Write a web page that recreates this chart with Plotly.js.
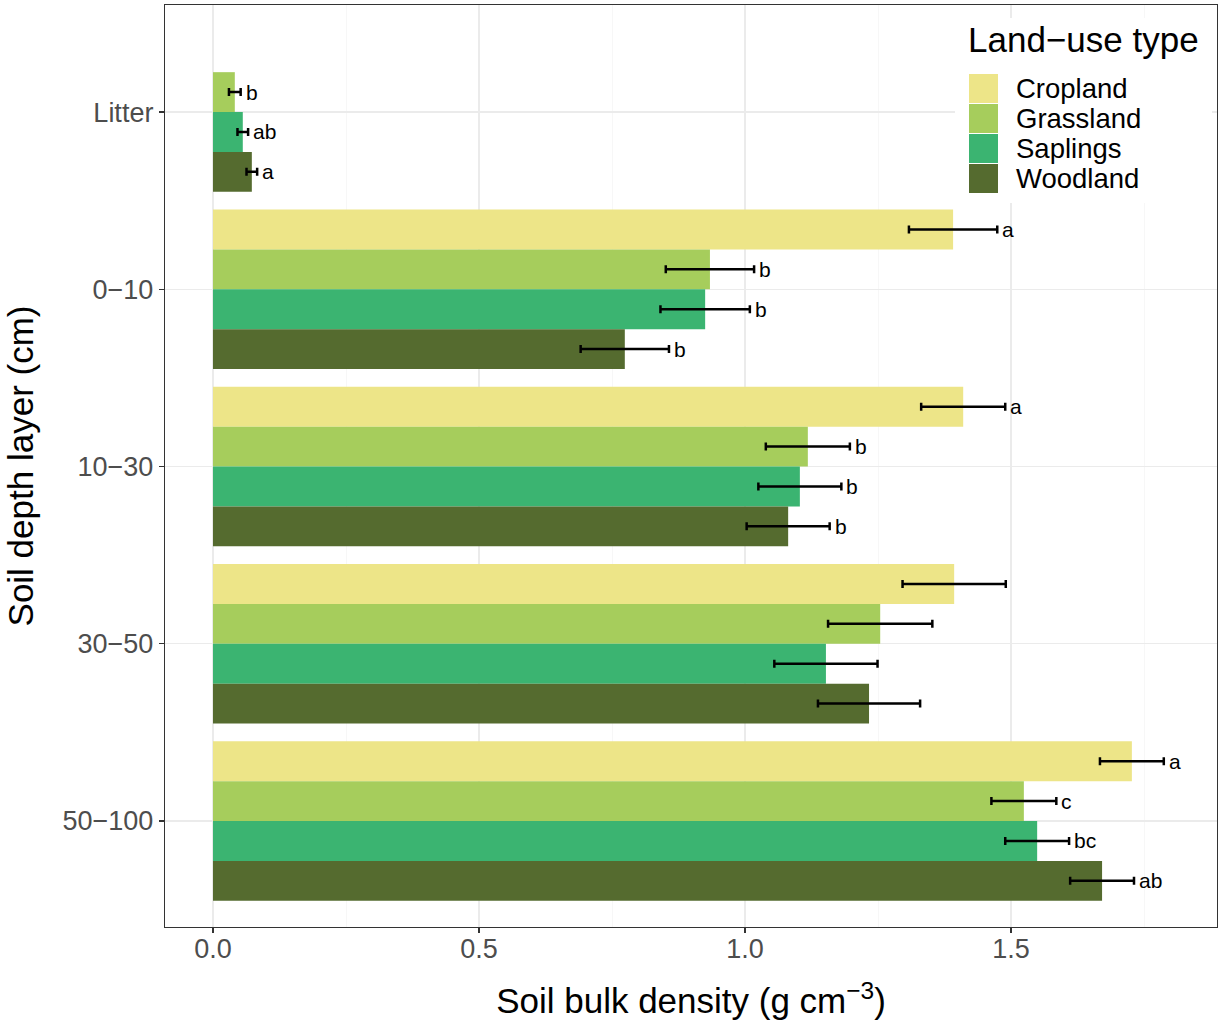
<!DOCTYPE html>
<html>
<head>
<meta charset="utf-8">
<script src="https://cdn.plot.ly/plotly-3.0.1.min.js"></script>
<style>
  html, body { margin: 0; padding: 0; background: #ffffff; }
  #chart { width: 1225px; height: 1023px; }
</style>
</head>
<body>
<div id="chart"></div>
<script>
// Soil depth layers (top to bottom) and land-use types
const layers = ['Litter', '0\u221210', '10\u221230', '30\u221250', '50\u2212100'];
const landUse = ['Cropland', 'Grassland', 'Saplings', 'Woodland'];
const colors = ['#EDE588', '#A6CD5C', '#3BB471', '#556B2F'];

// Mean bulk density (g cm-3) per layer, standard errors and significance letters
const cropland     = [null, 1.391, 1.410, 1.393, 1.727];
const croplandErr  = [null, 0.083, 0.079, 0.097, 0.060];
const croplandSig  = ['', 'a', 'a', '', 'a'];

const grassland    = [0.041, 0.934, 1.118, 1.254, 1.524];
const grasslandErr = [0.011, 0.083, 0.079, 0.098, 0.061];
const grasslandSig = ['b', 'b', 'b', '', 'c'];

const saplings     = [0.056, 0.925, 1.103, 1.152, 1.549];
const saplingsErr  = [0.010, 0.084, 0.078, 0.097, 0.060];
const saplingsSig  = ['ab', 'b', 'b', '', 'bc'];

const woodland     = [0.073, 0.774, 1.081, 1.233, 1.671];
const woodlandErr  = [0.010, 0.083, 0.078, 0.096, 0.060];
const woodlandSig  = ['a', 'b', 'b', '', 'ab'];

const series = [
  { vals: cropland,  err: croplandErr,  sig: croplandSig },
  { vals: grassland, err: grasslandErr, sig: grasslandSig },
  { vals: saplings,  err: saplingsErr,  sig: saplingsSig },
  { vals: woodland,  err: woodlandErr,  sig: woodlandSig }
];

const FONT = 'Liberation Sans, Arial, sans-serif';
const BARGAP = 0.1;

const traces = series.map((s, i) => ({
  type: 'bar',
  orientation: 'h',
  name: landUse[i],
  y: layers,
  x: s.vals,
  marker: { color: colors[i], line: { width: 0 } },
  error_x: { type: 'data', array: s.err, visible: true, color: '#000000', thickness: 2.5, width: 4 },
  showlegend: false,
  hoverinfo: 'x+name'
}));

// Significance letters placed just right of each error bar
const annotations = [];
const groupW = 1 - BARGAP;
const barW = groupW / landUse.length;
series.forEach((s, i) => {
  const off = -groupW / 2 + barW * (i + 0.5);
  s.vals.forEach((v, j) => {
    if (v === null || !s.sig[j]) return;
    annotations.push({
      xref: 'x', yref: 'y',
      x: v + s.err[j], y: j + off,
      text: s.sig[j], showarrow: false,
      xanchor: 'left', yanchor: 'middle', xshift: 3,
      font: { family: FONT, size: 21, color: '#000000' }
    });
  });
});

// Plot-area geometry used for the in-panel legend
const M = { l: 165, r: 8, t: 5, b: 96 };
const PW = 1225 - M.l - M.r, PH = 1023 - M.t - M.b;
const px = v => (v - M.l) / PW;
const py = v => 1 - (v - M.t) / PH;

const shapes = [{
  type: 'rect', xref: 'paper', yref: 'paper', layer: 'above',
  x0: px(955), x1: px(1212), y0: py(203), y1: py(18),
  fillcolor: '#ffffff', line: { width: 0 }
}];
annotations.push({
  xref: 'paper', yref: 'paper', x: px(966), y: py(40),
  xanchor: 'left', yanchor: 'middle', showarrow: false,
  text: 'Land\u2212use type', font: { family: FONT, size: 35, color: '#000000' }
});
landUse.forEach((name, i) => {
  const top = 74 + i * 30;
  shapes.push({
    type: 'rect', xref: 'paper', yref: 'paper', layer: 'above',
    x0: px(969), x1: px(998), y0: py(top + 29), y1: py(top),
    fillcolor: colors[i], line: { width: 0 }
  });
  annotations.push({
    xref: 'paper', yref: 'paper', x: px(1014), y: py(top + 14.5),
    xanchor: 'left', yanchor: 'middle', showarrow: false,
    text: name, font: { family: FONT, size: 27.5, color: '#000000' }
  });
});

const layout = {
  width: 1225, height: 1023,
  margin: M,
  paper_bgcolor: '#ffffff', plot_bgcolor: '#ffffff',
  barmode: 'group', bargap: BARGAP, bargroupgap: 0,
  showlegend: false,
  font: { family: FONT },
  xaxis: {
    range: [-0.0902, 1.887],
    tickvals: [0, 0.5, 1.0, 1.5], ticktext: ['0.0', '0.5', '1.0', '1.5'],
    ticks: 'outside', ticklen: 5, tickwidth: 1.2, tickcolor: '#333333',
    ticklabelstandoff: -8,
    tickfont: { family: FONT, size: 27, color: '#4D4D4D' },
    showgrid: true, gridcolor: '#EBEBEB', gridwidth: 1.2,
    minor: { tickvals: [0.25, 0.75, 1.25, 1.75], showgrid: true, gridcolor: '#F2F2F2', gridwidth: 0.6, ticks: '' },
    zeroline: false,
    showline: true, mirror: true, linecolor: '#333333', linewidth: 1.2,
    title: { text: 'Soil bulk density (g cm<sup>\u22123</sup>)', font: { family: FONT, size: 35, color: '#000000' }, standoff: 26 }
  },
  yaxis: {
    type: 'category', categoryorder: 'array', categoryarray: layers,
    range: [4.598, -0.604],
    ticks: 'outside', ticklen: 5, tickwidth: 1.2, tickcolor: '#333333',
    tickfont: { family: FONT, size: 27, color: '#4D4D4D' },
    showgrid: true, gridcolor: '#EBEBEB', gridwidth: 1.2,
    zeroline: false,
    showline: true, mirror: true, linecolor: '#333333', linewidth: 1.2,
    title: { text: 'Soil depth layer (cm)', font: { family: FONT, size: 35, color: '#000000' }, standoff: 18 }
  },
  shapes: shapes,
  annotations: annotations
};

Plotly.newPlot('chart', traces, layout, { displayModeBar: false, staticPlot: true });
</script>
</body>
</html>
